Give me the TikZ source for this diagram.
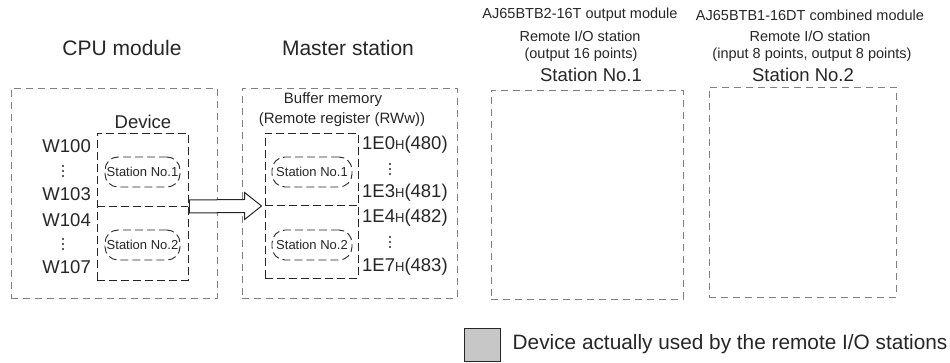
\documentclass[tikz,border=0pt]{standalone}
\usepackage{fontspec}
\setmainfont{Liberation Sans}
\usetikzlibrary{calc}
\newcommand\myfs[1]{\fontsize{#1}{#1}\selectfont}
\newcommand\smH{{\myfs{13}H}}
\tikzset{
  outerbox/.style={draw=black!50, line width=0.8pt, dash pattern=on 7pt off 5pt, inner sep=0pt},
  innerbox/.style={draw=black!85, line width=0.9pt, dash pattern=on 8pt off 4pt, inner sep=0pt},
  stnoval/.style={innerbox, rounded corners=13pt, minimum height=30pt, font=\myfs{13}, text=black!85},
  lbl/.style={inner sep=0pt, text=black!85},
  hdr/.style={lbl, font=\myfs{14.5}},
  big/.style={lbl, font=\myfs{21}},
  mid/.style={lbl, font=\myfs{18.5}},
  blockarrow/.style={draw=black!85, fill=white, line width=1pt, line join=miter},
  vdts/.pic={\fill[black!85] (0,-5) circle (1.1) (0,0) circle (1.1) (0,5) circle (1.1);}
}
\begin{document}
\begin{tikzpicture}[x=1pt,y=-1pt]
\useasboundingbox (0,0) rectangle (950,363);
% titles
\node[big] (tcpu) at (122,48) {CPU module};
\node[big] (tmst) at (348,48) {Master station};
\node[hdr] (h1a) at (580,15) {AJ65BTB2-16T output module};
\node[hdr] (h1b) at (580,36) {Remote I/O station};
\node[hdr] (h1c) at (581,55) {(output 16 points)};
\node[lbl, font=\myfs{18.5}] (h1d) at (591,75) {Station No.1};
\node[hdr] (h2a) at (810,15) {AJ65BTB1-16DT combined module};
\node[hdr] (h2b) at (810,36) {Remote I/O station};
\node[hdr] (h2c) at (812,55) {(input 8 points, output 8 points)};
\node[lbl, font=\myfs{18.5}] (h2d) at (803,75) {Station No.2};
% outer boxes
\node[outerbox, minimum width=206pt, minimum height=210pt] (cpu) at (114,193) {};
\node[outerbox, minimum width=215pt, minimum height=210pt] (mst) at (349.5,193) {};
\node[outerbox, minimum width=192pt, minimum height=209pt] (st1) at (587,194.5) {};
\node[outerbox, minimum width=187pt, minimum height=210pt] (st2) at (802.5,192) {};
% CPU device
\node[mid] (devl) at (143,122) {Device};
\node[innerbox, minimum width=91pt, minimum height=147pt] (dev) at (142.5,206.5) {};
\draw[innerbox] (dev.west) -- (dev.east);
\node[stnoval, minimum width=75pt] (cs1) at (142.5,172) {Station No.1};
\node[stnoval, minimum width=75pt] (cs2) at (142.5,245) {Station No.2};
\node[mid, anchor=east] (w100) at (91,146) {W100};
\node[mid, anchor=east] (w103) at (91,194) {W103};
\node[mid, anchor=east] (w104) at (91,220) {W104};
\node[mid, anchor=east] (w107) at (91,267) {W107};
\pic at (63,171) {vdts};
\pic at (63,244) {vdts};
% Master buffer memory
\node[lbl, font=\myfs{15}] (bm1) at (333,100) {Buffer memory};
\node[lbl, font=\myfs{15}] (bm2) at (342,120) {(Remote register (RWw))};
\node[innerbox, minimum width=93pt, minimum height=145pt] (buf) at (311.5,205.5) {};
\draw[innerbox] (buf.west) -- (buf.east);
\node[stnoval, minimum width=80pt] (ms1) at (312,172) {Station No.1};
\node[stnoval, minimum width=80pt] (ms2) at (312,245) {Station No.2};
\node[mid, anchor=west] (a1) at (362,145) {1E0\smH(480)};
\node[mid, anchor=west] (a2) at (362,193) {1E3\smH(481)};
\node[mid, anchor=west] (a3) at (362,218) {1E4\smH(482)};
\node[mid, anchor=west] (a4) at (362,267) {1E7\smH(483)};
\pic at (390,169) {vdts};
\pic at (390,242) {vdts};
% block arrow from device to buffer memory
\coordinate (tip) at ($(buf.west)+(-3,0.5)$);
\draw[blockarrow] ($(dev.east)+(1,-6.5)$) -- ($(tip)+(-17,-6.5)$) -- ($(tip)+(-17,-13.5)$) -- (tip)
  -- ($(tip)+(-17,13.5)$) -- ($(tip)+(-17,6.5)$) -- ($(dev.east)+(1,6.5)$) -- cycle;
% legend
\node[draw=black!85, line width=1pt, fill=black!22, minimum width=36pt, minimum height=33pt, inner sep=0pt] (leg) at (482,344.5) {};
\node[lbl, font=\myfs{20.8}, anchor=west] (legt) at ($(leg.east)+(12,0)$) {Device actually used by the remote I/O stations};
\end{tikzpicture}
\end{document}
